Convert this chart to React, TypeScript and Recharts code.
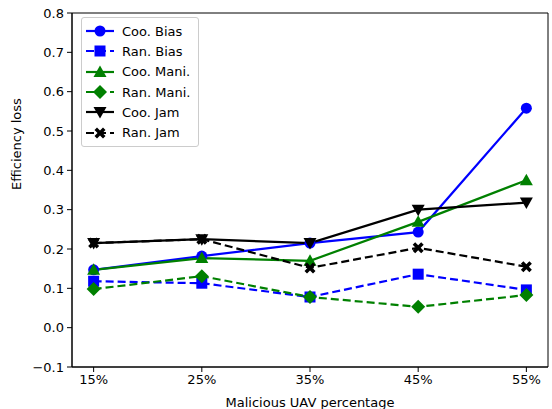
import React from 'react';
import { LineChart, Line, XAxis, YAxis, ReferenceArea } from 'recharts';

const categories = ['15%', '25%', '35%', '45%', '55%'];
const cooBias = [0.147, 0.182, 0.215, 0.243, 0.558];
const ranBias = [0.118, 0.113, 0.078, 0.136, 0.096];
const cooMani = [0.147, 0.177, 0.170, 0.269, 0.375];
const ranMani = [0.098, 0.131, 0.078, 0.053, 0.083];
const cooJam = [0.215, 0.225, 0.215, 0.300, 0.318];
const ranJam = [0.215, 0.225, 0.152, 0.203, 0.155];
const yTicks = [-0.1, 0, 0.1, 0.2, 0.3, 0.4, 0.5, 0.6, 0.7, 0.8];

const data = categories.map((c, i) => ({
  x: i,
  label: c,
  cooBias: cooBias[i],
  ranBias: ranBias[i],
  cooMani: cooMani[i],
  ranMani: ranMani[i],
  cooJam: cooJam[i],
  ranJam: ranJam[i],
}));

type Shape = 'circle' | 'square' | 'triUp' | 'diamond' | 'triDown' | 'x';

function Marker({ cx, cy, shape, color }: { cx: number; cy: number; shape: Shape; color: string }) {
  if (cx == null || cy == null) return null;
  switch (shape) {
    case 'circle':
      return <circle cx={cx} cy={cy} r={5.5} fill={color} />;
    case 'square':
      return <rect x={cx - 5.5} y={cy - 5.5} width={11} height={11} fill={color} />;
    case 'triUp':
      return <polygon points={`${cx},${cy - 6.5} ${cx + 6.5},${cy + 5} ${cx - 6.5},${cy + 5}`} fill={color} />;
    case 'triDown':
      return <polygon points={`${cx},${cy + 6.5} ${cx + 6.5},${cy - 5} ${cx - 6.5},${cy - 5}`} fill={color} />;
    case 'diamond':
      return <polygon points={`${cx},${cy - 7} ${cx + 7},${cy} ${cx},${cy + 7} ${cx - 7},${cy}`} fill={color} />;
    case 'x': {
      const a = 5.5;
      const t = 2.5;
      const pts = [
        [-a, -a + t], [-a + t, -a], [0, -t], [a - t, -a], [a, -a + t], [t, 0],
        [a, a - t], [a - t, a], [0, t], [-a + t, a], [-a, a - t], [-t, 0],
      ].map(([dx, dy]) => `${cx + dx},${cy + dy}`).join(' ');
      return <polygon points={pts} fill={color} />;
    }
  }
  return null;
}

const series: { key: string; name: string; color: string; shape: Shape; dashed: boolean }[] = [
  { key: 'cooBias', name: 'Coo. Bias', color: '#0000ff', shape: 'circle', dashed: false },
  { key: 'ranBias', name: 'Ran. Bias', color: '#0000ff', shape: 'square', dashed: true },
  { key: 'cooMani', name: 'Coo. Mani.', color: '#008000', shape: 'triUp', dashed: false },
  { key: 'ranMani', name: 'Ran. Mani.', color: '#008000', shape: 'diamond', dashed: true },
  { key: 'cooJam', name: 'Coo. Jam', color: '#000000', shape: 'triDown', dashed: false },
  { key: 'ranJam', name: 'Ran. Jam', color: '#000000', shape: 'x', dashed: true },
];

const font = 'DejaVu Sans, sans-serif';
const dash = '8 4';

function LegendBox() {
  return (
    <div
      style={{
        position: 'absolute',
        left: 81,
        top: 17,
        width: 118,
        boxSizing: 'border-box',
        border: '1px solid #cccccc',
        borderRadius: 3,
        background: 'rgba(255,255,255,0.8)',
        padding: '3px 0 3px 3px',
        fontFamily: font,
        fontSize: 13,
        color: '#000',
      }}
    >
      {series.map((s) => (
        <div key={s.key} style={{ display: 'flex', alignItems: 'center', height: 20.3 }}>
          <svg width={30} height={16} style={{ marginRight: 7 }}>
            <line x1={1} y1={8} x2={29} y2={8} stroke={s.color} strokeWidth={2.2} strokeDasharray={s.dashed ? dash : undefined} />
            <Marker cx={15} cy={8} shape={s.shape} color={s.color} />
          </svg>
          <span>{s.name}</span>
        </div>
      ))}
    </div>
  );
}

export default function App() {
  return (
    <div style={{ position: 'absolute', left: 0, top: 0, width: 552, height: 409, background: '#fff' }}>
      <LineChart width={552} height={409} data={data} margin={{ top: 13, right: 4, bottom: 0, left: 0 }}>
        <XAxis
          dataKey="x"
          type="number"
          domain={[-0.2, 4.2]}
          ticks={[0, 1, 2, 3, 4]}
          tickFormatter={(v: number) => categories[v]}
          allowDataOverflow
          height={42}
          stroke="#000"
          tickSize={5}
          tickMargin={3}
          tick={{ fill: '#000', fontSize: 13, fontFamily: font }}
          label={{ value: 'Malicious UAV percentage', position: 'insideBottom', offset: 2, fill: '#000', fontSize: 13, fontFamily: font }}
        />
        <YAxis
          type="number"
          domain={[-0.1, 0.8]}
          ticks={yTicks}
          tickFormatter={(v: number) => (v < 0 ? '\u2212' + Math.abs(v).toFixed(1) : v.toFixed(1))}
          width={72}
          stroke="#000"
          tickSize={5}
          tickMargin={3}
          tick={{ fill: '#000', fontSize: 13, fontFamily: font }}
          label={{ value: 'Efficiency loss', angle: -90, position: 'insideLeft', offset: 16, fill: '#000', fontSize: 13, fontFamily: font }}
        />
        <ReferenceArea x1={-0.2} x2={4.2} y1={-0.1} y2={0.8} fill="none" stroke="#000" strokeWidth={1} ifOverflow="visible" />
        {series.map((s) => (
          <Line
            key={s.key}
            dataKey={s.key}
            name={s.name}
            stroke={s.color}
            strokeWidth={2.2}
            strokeDasharray={s.dashed ? dash : undefined}
            isAnimationActive={false}
            dot={(p: any) => <Marker key={`${s.key}-${p.index}`} cx={p.cx} cy={p.cy} shape={s.shape} color={s.color} />}
            activeDot={false}
          />
        ))}
      </LineChart>
      <LegendBox />
    </div>
  );
}
